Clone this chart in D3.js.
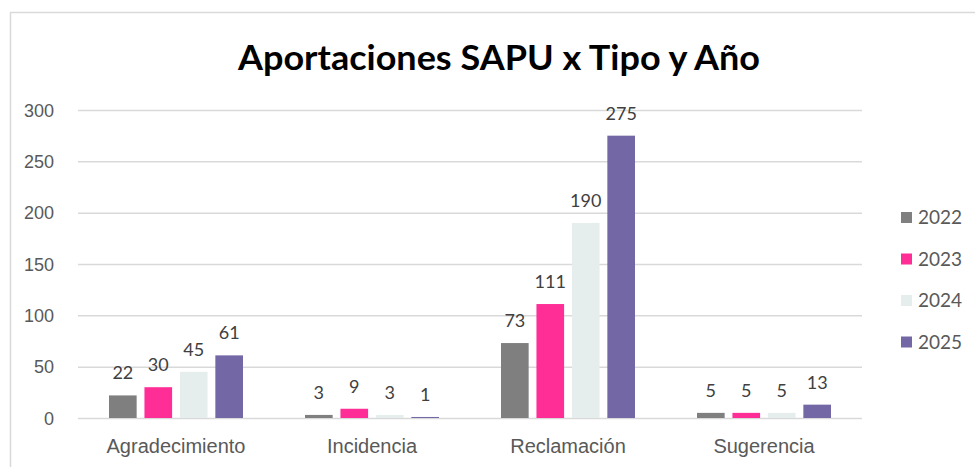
<!DOCTYPE html>
<html>
<head>
<meta charset="utf-8">
<script src="https://cdn.jsdelivr.net/npm/d3@7"></script>
<style>
  body { margin: 0; background: #fff; }
  svg { display: block; font-family: Lato, "Open Sans", sans-serif; }
  .grid line { stroke: #d9d9d9; stroke-width: 1.5; }
  .grid .domain { display: none; }
  .axis text { fill: #595959; font-size: 18px; }
  .axis.x text { font-size: 20px; }
  .val { fill: #404040; font-size: 18px; }
</style>
</head>
<body>
<svg id="chart" width="975" height="467"></svg>
<script>
// datos
const categories = ['Agradecimiento', 'Incidencia', 'Reclamación', 'Sugerencia'];
const years = ['2022', '2023', '2024', '2025'];
const values2022 = [22, 3, 73, 5];
const values2023 = [30, 9, 111, 5];
const values2024 = [45, 3, 190, 5];
const values2025 = [61, 1, 275, 13];
const yTicks = [0, 50, 100, 150, 200, 250, 300];
const colors = ['#7f7f7f', '#ff2d96', '#e6eeed', '#7467a6'];

const series = [values2022, values2023, values2024, values2025];

const W = 975, H = 467;
const margin = { top: 110, right: 113, bottom: 49, left: 78 };
const innerW = W - margin.left - margin.right;
const innerH = H - margin.top - margin.bottom;

const svg = d3.select('#chart');

// marco
svg.append('path')
    .attr('d', 'M10.5,' + H + 'V12.5H' + W)
    .attr('fill', 'none')
    .attr('stroke', '#d9d9d9')
    .attr('stroke-width', 1.5);

// titulo
svg.append('text')
    .attr('x', 499)
    .attr('y', 70)
    .attr('text-anchor', 'middle')
    .attr('font-size', 34)
    .attr('font-weight', 'bold')
    .attr('fill', '#000')
    .attr('textLength', 522)
    .attr('lengthAdjust', 'spacingAndGlyphs')
    .text('Aportaciones SAPU x Tipo y Año');

const g = svg.append('g')
    .attr('transform', 'translate(' + margin.left + ',' + margin.top + ')');

const x0 = d3.scaleBand().domain(categories).range([0, innerW]).paddingInner(0).paddingOuter(0);
const x1 = d3.scaleBand().domain(years).range([0, 134]).paddingInner(0.22);
const y = d3.scaleLinear().domain([0, 300]).range([innerH, 0]);

// rejilla
g.append('g')
    .attr('class', 'grid')
    .call(d3.axisLeft(y).tickValues(yTicks).tickSize(-innerW).tickFormat(''));

// eje y
g.append('g')
    .attr('class', 'axis')
    .attr('transform', 'translate(-21,0)')
    .call(d3.axisLeft(y).tickValues(yTicks).tickSize(0))
    .call(s => s.select('.domain').remove())
    .selectAll('text').attr('dy', '0.35em');

// eje x
g.append('g')
    .attr('class', 'axis x')
    .attr('transform', 'translate(0,' + innerH + ')')
    .call(d3.axisBottom(x0).tickSize(0).tickPadding(21))
    .call(s => s.select('.domain').remove());

// barras
const groups = g.selectAll('g.cat')
    .data(categories)
    .enter().append('g')
    .attr('class', 'cat')
    .attr('transform', d => 'translate(' + (x0(d) + (x0.bandwidth() - 134) / 2) + ',0)');

groups.selectAll('rect')
    .data((d, i) => years.map((yr, j) => ({ yr, v: series[j][i], c: colors[j] })))
    .enter().append('rect')
    .attr('x', d => x1(d.yr))
    .attr('y', d => y(d.v))
    .attr('width', x1.bandwidth())
    .attr('height', d => innerH - y(d.v))
    .attr('fill', d => d.c);

groups.selectAll('text.val')
    .data((d, i) => years.map((yr, j) => ({ yr, v: series[j][i] })))
    .enter().append('text')
    .attr('class', 'val')
    .attr('x', d => x1(d.yr) + x1.bandwidth() / 2)
    .attr('y', d => y(d.v) - 16)
    .attr('text-anchor', 'middle')
    .text(d => d.v);

// leyenda
const legend = svg.append('g')
    .attr('transform', 'translate(901,217.5)');
const item = legend.selectAll('g')
    .data(years)
    .enter().append('g')
    .attr('transform', (d, i) => 'translate(0,' + i * 41.5 + ')');
item.append('rect')
    .attr('y', -5.5)
    .attr('width', 11)
    .attr('height', 11)
    .attr('fill', (d, i) => colors[i]);
item.append('text')
    .attr('x', 17)
    .attr('dy', '0.35em')
    .attr('fill', '#595959')
    .attr('font-size', 19)
    .text(d => d);
</script>
</body>
</html>
